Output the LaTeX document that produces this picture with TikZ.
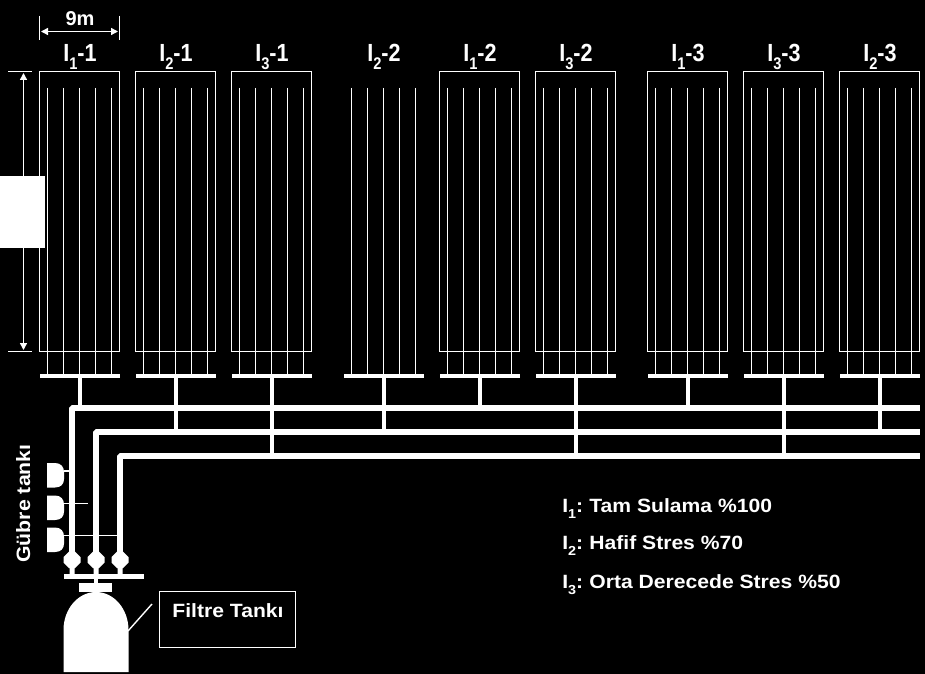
\documentclass[tikz,border=0pt]{standalone}
\usepackage{fontspec}
\setmainfont{Liberation Sans}
\newfontface\titleface{Liberation Sans Bold}[FakeStretch=.87]
\newfontface\wideface{Liberation Sans Bold}[FakeStretch=1.1]
\newcommand{\lowidx}[1]{\raisebox{-.32em}{\scalebox{.68}{#1}}}
\usetikzlibrary{arrows.meta}
\tikzset{
  x=.75pt,y=-.75pt,
  thinline/.style={draw=white,line width=1.05pt},
  plotbox/.style={draw=white,line width=1.05pt,minimum width=60pt,minimum height=210pt,inner sep=0pt,outer sep=0pt,anchor=north west},
  manifold/.style={fill=white,minimum width=60pt,minimum height=3pt,inner sep=0pt,outer sep=0pt},
  feed/.style={draw=white,line width=3pt},
  mainline/.style={draw=white,line width=4.5pt,line join=bevel},
  title/.style={text=white,font=\titleface\fontsize{18.6}{20}\selectfont,anchor=base},
  legend/.style={text=white,font=\wideface\fontsize{14.4}{16}\selectfont,anchor=base west,inner sep=0pt},
  dimtip/.style={thinline,{Triangle[length=5.25pt,width=5.25pt]}-{Triangle[length=5.25pt,width=5.25pt]}}
}
\begin{document}
\begin{tikzpicture}
\fill[black] (0,0) rectangle (925,674);
\useasboundingbox (0,0) rectangle (925,674);

% main supply lines, from the valves to the right edge
\coordinate (v1) at (72,553);
\coordinate (v2) at (96,553);
\coordinate (v3) at (120,553);
\coordinate (m1c) at (72,408);
\coordinate (m2c) at (96,432);
\coordinate (m3c) at (120,456);
\coordinate (m1e) at (920,408);
\coordinate (m2e) at (920,432);
\coordinate (m3e) at (920,456);
\draw[mainline] (v1) -- (m1c) -- (m1e);
\draw[mainline] (v2) -- (m2c) -- (m2e);
\draw[mainline] (v3) -- (m3c) -- (m3e);

% plots: left edge / treatment / repeat / name / centre
\foreach \px/\tr/\rp/\lbl/\tx in {
  39.5/1/1/a/80, 135.5/2/1/b/176, 231.5/3/1/c/272,
  343.5/2/2/d/384, 439.5/1/2/e/480, 535.5/3/2/f/576,
  647.5/1/3/g/688, 743.5/3/3/h/784, 839.5/2/3/i/880}{
  \pgfmathsetmacro{\mainy}{\tr==1 ? 405 : (\tr==2 ? 429 : 453)}
  \node[manifold] (man\lbl) at (\px+40.5,376) {};
  \coordinate (tap\lbl) at (\tx,\mainy+3);
  \draw[feed] (man\lbl.south -| tap\lbl) -- (tap\lbl);
  \foreach \k in {8,24,40,56,72}{
    \coordinate (t\lbl\k) at (\px+\k,88);
    \coordinate (b\lbl\k) at (\px+\k,374);
    \draw[thinline] (t\lbl\k) -- (b\lbl\k);
  }
  \node[title] (ttl\lbl) at (\tx,62) {I\lowidx{\tr}-\rp};
}
% the plots that carry an outline
\foreach \px/\lbl in {39.5/a,135.5/b,231.5/c,439.5/e,535.5/f,647.5/g,743.5/h,839.5/i}{
  \node[plotbox] (box\lbl) at (\px,71.5) {};
}

% width dimension
\coordinate (wl) at (39.5,16);
\coordinate (wlb) at (39.5,40);
\coordinate (wr) at (119.5,16);
\coordinate (wrb) at (119.5,40);
\draw[thinline] (wl) -- (wlb);
\draw[thinline] (wr) -- (wrb);
\coordinate (wa) at (41,31.5);
\coordinate (wb) at (118,31.5);
\draw[dimtip] (wa) -- (wb);
\node[title,font=\bfseries\fontsize{15}{17}\selectfont] (wtxt) at (80,26) {9m};

% length dimension
\coordinate (la) at (8,71.5);
\coordinate (lb) at (32,71.5);
\coordinate (lc) at (8,351.5);
\coordinate (ld) at (32,351.5);
\draw[thinline] (la) -- (lb);
\draw[thinline] (lc) -- (ld);
\coordinate (le) at (23.5,73);
\coordinate (lf) at (23.5,350);
\draw[dimtip] (le) -- (lf);
\fill[white] (0,176) rectangle (45,248);

% fertiliser tanks and their feed lines
\foreach \y/\xe/\n in {463/69/p,495.5/88/q,527.5/118/r}{
  \fill[white] (47,\y) -- (55,\y) .. controls (61,\y) and (64,\y+4) .. (64,\y+9) -- (64,\y+16)
    .. controls (64,\y+21) and (61,\y+24.5) .. (55,\y+24.5) -- (47,\y+24.5) -- cycle;
  \coordinate (g\n) at (64,\y+8);
  \coordinate (h\n) at (\xe,\y+8);
  \draw[thinline] (g\n) -- (h\n);
}
\node[text=white,font=\wideface\fontsize{14.5}{17}\selectfont,rotate=90,anchor=base,inner sep=0pt] (gubre) at (30,503.5) {Gübre tankı};

% valves on the collector bar
\foreach \vx in {72,96,120}{
  \fill[white] (\vx-3,551.5) -- (\vx+3,551.5) -- (\vx+8.5,557) -- (\vx+8.5,562.5) -- (\vx+3,568)
    -- (\vx+2.5,568) -- (\vx+2.5,574) -- (\vx-2.5,574) -- (\vx-2.5,568) -- (\vx-3,568)
    -- (\vx-8.5,562.5) -- (\vx-8.5,557) -- cycle;
}
\fill[white] (64,573.5) rectangle (144,579);
\fill[white] (94,579) rectangle (98,584);
\fill[white] (79,583) rectangle (112,592);

% filter tank
\fill[white] (63.5,672) -- (63.5,630) arc[x radius=32.5,y radius=-38,start angle=180,end angle=0] -- (128.5,672) -- cycle;
\coordinate (tankedge) at (128,631);
\coordinate (leadend) at (152,604);
\draw[thinline] (tankedge) -- (leadend);
\node[draw=white,line width=1.05pt,minimum width=102pt,minimum height=42pt,inner sep=0pt,outer sep=0pt,anchor=north west] (filtre) at (159.5,591.5) {};
\node[text=white,font=\wideface\fontsize{14.4}{16}\selectfont,anchor=base,inner sep=0pt] (filtretxt) at (228,617.5) {Filtre Tankı};

% treatment legend
\node[legend] (l1) at (562,512) {I\lowidx{1}:\hspace{-1.2pt} Tam Sulama \%100};
\node[legend] (l2) at (562,549.5) {I\lowidx{2}:\hspace{-1.2pt} Hafif Stres \%70};
\node[legend] (l3) at (562,588) {I\lowidx{3}:\hspace{-1.2pt} Orta Derecede Stres \%50};
\end{tikzpicture}
\end{document}
